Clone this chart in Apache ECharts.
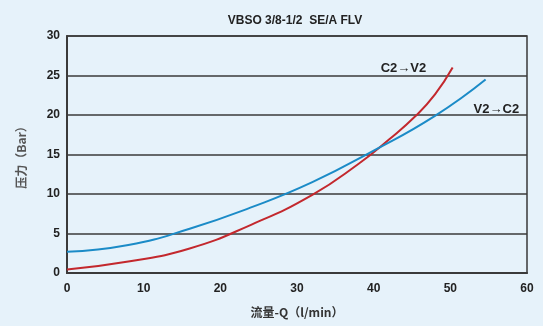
<!DOCTYPE html>
<html>
<head>
<meta charset="utf-8">
<script src="https://cdn.jsdelivr.net/npm/echarts@6/dist/echarts.min.js"></script>
<style>
  html, body { margin: 0; padding: 0; background: #e6f2fa; }
  #chart { width: 543px; height: 326px; }
</style>
</head>
<body>
<div id="chart"></div>
<script>
// flow Q (l/min) vs pressure (Bar)
const c2v2 = [
  [0, 0.45], [8, 1.45], [16, 3.1], [24, 6.1], [32, 9.9], [38, 13.8],
  [42, 16.9], [45.5, 19.9], [48, 22.6], [50.3, 26]
]
const v2c2 = [
  [0, 2.7], [8, 3.55], [16, 5.6], [24, 8.3], [32, 11.5], [40, 15.5],
  [48, 19.9], [54.6, 24.5]
]
const xTicks = [0, 10, 20, 30, 40, 50, 60]
const yTicks = [0, 5, 10, 15, 20, 25, 30]

const chart = echarts.init(document.getElementById('chart'))
const labelFont = { fontFamily: 'Liberation Sans, Arial', fontWeight: 'bold', fontSize: 12, color: '#222' }

chart.setOption({
  backgroundColor: '#e6f2fa',
  animation: false,
  title: {
    text: 'VBSO 3/8-1/2  SE/A FLV',
    left: 290,
    top: 10,
    textAlign: 'center',
    textStyle: labelFont
  },
  grid: {
    left: 67,
    right: 16,
    top: 36,
    bottom: 53,
    show: true,
    borderColor: '#3a3a3a',
    borderWidth: 1.5
  },
  xAxis: {
    type: 'value',
    min: xTicks[0],
    max: xTicks[xTicks.length - 1],
    interval: 10,
    name: '流量-Q（l/min）',
    nameLocation: 'center',
    nameGap: 33,
    nameTextStyle: Object.assign({}, labelFont, { fontFamily: 'Noto Sans CJK SC', color: '#333' }),
    axisLine: { show: true, lineStyle: { color: '#3a3a3a', width: 2 } },
    axisTick: { show: false },
    axisLabel: Object.assign({ margin: 10 }, labelFont),
    splitLine: { show: false }
  },
  yAxis: {
    type: 'value',
    min: yTicks[0],
    max: yTicks[yTicks.length - 1],
    interval: 5,
    name: '压力（Bar）',
    nameLocation: 'center',
    nameGap: 40,
    nameTextStyle: Object.assign({}, labelFont, { fontFamily: 'Noto Sans CJK SC', color: '#555' }),
    axisLine: { show: true, lineStyle: { color: '#3a3a3a', width: 2 } },
    axisTick: { show: false },
    axisLabel: Object.assign({ margin: 7 }, labelFont),
    splitLine: { show: true, lineStyle: { color: '#3a3a3a', width: 1.5 } }
  },
  series: [
    {
      name: 'C2→V2',
      type: 'line',
      data: c2v2,
      smooth: true,
      showSymbol: false,
      lineStyle: { color: '#c3282d', width: 2 },
      endLabel: {
        show: true,
        formatter: 'C2→V2',
        offset: [-80, 1],
        ...labelFont,
        fontSize: 13
      }
    },
    {
      name: 'V2→C2',
      type: 'line',
      data: v2c2,
      smooth: true,
      showSymbol: false,
      lineStyle: { color: '#1b8bc7', width: 2 },
      endLabel: {
        show: true,
        formatter: 'V2→C2',
        offset: [-20, 30],
        ...labelFont,
        fontSize: 13
      }
    }
  ]
})
</script>
</body>
</html>
